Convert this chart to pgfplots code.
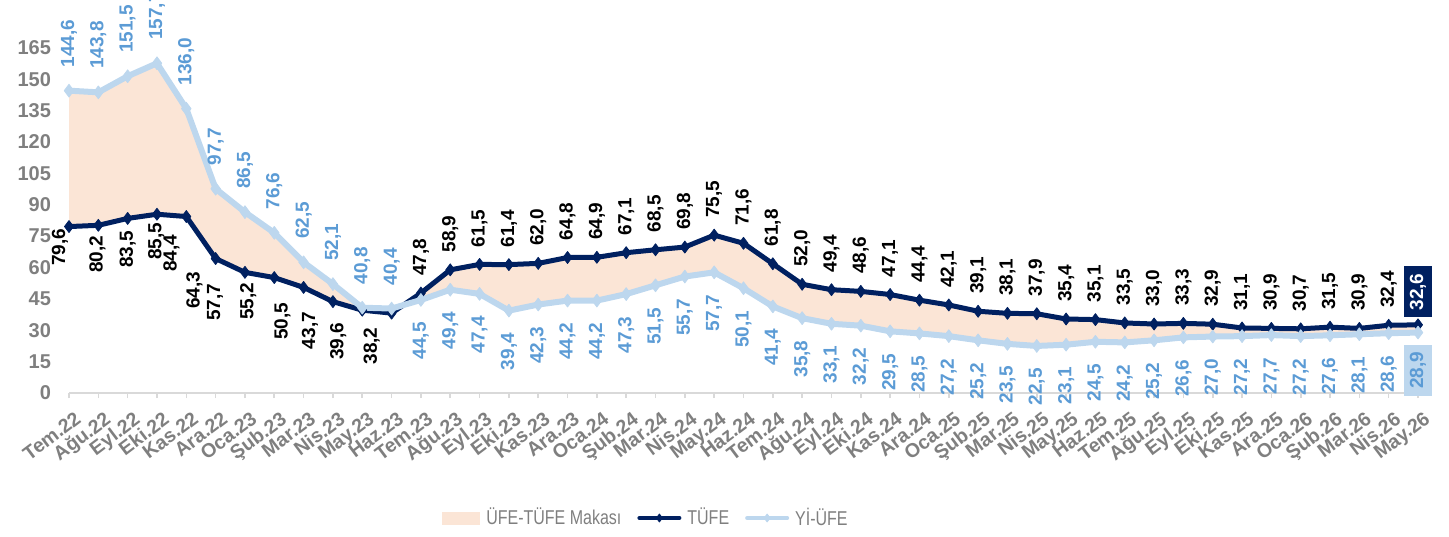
\documentclass[border=0pt]{standalone}
\usepackage{fontspec}
\setmainfont{Liberation Sans}
\newfontfamily\narrowfont{Liberation Sans}[FakeStretch=0.8]
\usepackage{pgfplots}
\usepackage{pgfplotstable}
\pgfplotsset{compat=1.18}
\usepgfplotslibrary{fillbetween}

\definecolor{tufe}{HTML}{002060}
\definecolor{ufeline}{HTML}{BDD7EE}
\definecolor{ufetext}{HTML}{5B9BD5}
\definecolor{peach}{HTML}{FBE5D6}
\definecolor{txtgray}{HTML}{7F7F7F}
\definecolor{axgray}{HTML}{D9D9D9}

\newcommand\lbl{\bfseries\fontsize{9.5}{11}\selectfont}

% i = month index (Tem.22 = 0)
\pgfplotstableread{
i tufe ufe
0 79.6 144.6
1 80.2 143.8
2 83.5 151.5
3 85.5 157.7
4 84.4 136.0
5 64.3 97.7
6 57.7 86.5
7 55.2 76.6
8 50.5 62.5
9 43.7 52.1
10 39.6 40.8
11 38.2 40.4
12 47.8 44.5
13 58.9 49.4
14 61.5 47.4
15 61.4 39.4
16 62.0 42.3
17 64.8 44.2
18 64.9 44.2
19 67.1 47.3
20 68.5 51.5
21 69.8 55.7
22 75.5 57.7
23 71.6 50.1
24 61.8 41.4
25 52.0 35.8
26 49.4 33.1
27 48.6 32.2
28 47.1 29.5
29 44.4 28.5
30 42.1 27.2
31 39.1 25.2
32 38.1 23.5
33 37.9 22.5
34 35.4 23.1
35 35.1 24.5
36 33.5 24.2
37 33.0 25.2
38 33.3 26.6
39 32.9 27.0
40 31.1 27.2
41 30.9 27.7
42 30.7 27.2
43 31.5 27.6
44 30.9 28.1
45 32.4 28.6
46 32.6 28.9
}\data

% where the early TUFE labels sit (they were moved below-left of the line)
\pgfplotstableread{
lx ly v
-0.31 78.64 79.6
0.97 75.42 80.2
2.00 77.76 83.5
2.97 81.67 85.5
3.49 75.79 84.4
4.28 58.08 64.3
4.98 52.44 57.7
6.11 52.81 55.2
7.28 43.33 50.5
8.22 38.92 43.7
9.18 33.86 39.6
10.32 31.50 38.2
}\early

\pgfplotsset{
  lab/.style={draw=none, mark=none, forget plot,
    nodes near coords={\pgfmathprintnumber[fixed,fixed zerofill,precision=1,use comma,assume math mode=true]{\pgfplotspointmeta}}},
  lineleg/.style={legend image code/.code={\draw[mark repeat=2, mark phase=2, ##1, line width=2pt, line cap=round, mark size=2pt]
    plot coordinates {(0pt,0pt) (10pt,0pt) (20pt,0pt)};}},
  arealeg/.style={legend image code/.code={\fill[peach] (0pt,-3pt) rectangle (18.5pt,3pt);}},
}

\begin{document}
\begin{tikzpicture}
\begin{axis}[
  scale only axis, width=674.5pt, height=182.95pt,
  xmin=0, xmax=46, ymin=0, ymax=175,
  clip=false,
  axis x line*=bottom, axis y line*=left,
  x axis line style={draw=axgray, line width=0.8pt, -},
  y axis line style={draw=none},
  ytick={0,15,...,165},
  ytick style={draw=none},
  xtick={0,...,46},
  x tick style={draw=axgray, line width=0.8pt},
  tick align=outside, major tick length=2.5pt,
  /pgf/number format/assume math mode=true,
  yticklabel style={font=\bfseries\fontsize{10}{12}\selectfont, text=txtgray, xshift=-3pt},
  xticklabel style={font=\bfseries\fontsize{9.8}{11}\selectfont, text=txtgray,
    xshift=2.5pt, yshift=-6pt, rotate=37, anchor=north east, inner sep=0pt},
  xticklabels={Tem.22,Ağu.22,Eyl.22,Eki.22,Kas.22,Ara.22,Oca.23,Şub.23,Mar.23,Nis.23,May.23,Haz.23,
    Tem.23,Ağu.23,Eyl.23,Eki.23,Kas.23,Ara.23,Oca.24,Şub.24,Mar.24,Nis.24,May.24,Haz.24,
    Tem.24,Ağu.24,Eyl.24,Eki.24,Kas.24,Ara.24,Oca.25,Şub.25,Mar.25,Nis.25,May.25,Haz.25,
    Tem.25,Ağu.25,Eyl.25,Eki.25,Kas.25,Ara.25,Oca.26,Şub.26,Mar.26,Nis.26,May.26},
  legend columns=3,
  legend style={draw=none, fill=none, at={(0.4285,-0.3416)}, anchor=center,
    font=\narrowfont\fontsize{10}{12}\selectfont, text=txtgray,
    /tikz/every even column/.append style={column sep=6pt},
    /tikz/every odd column/.append style={column sep=1pt}},
]
\addplot[name path=T, draw=none, forget plot] table[x=i, y=tufe] {\data};
\addplot[name path=U, draw=none, forget plot] table[x=i, y=ufe] {\data};
\addplot[peach, area legend, arealeg] fill between[of=T and U];
\addlegendentry{ÜFE-TÜFE Makası}

\addplot[tufe, line width=2.5pt, line join=round, mark=diamond*, mark size=3pt,
  mark options={solid, line width=0.4pt}, lineleg]
  table[x=i, y=tufe] {\data};
\addlegendentry{TÜFE}

\addplot[ufeline, line width=3pt, line join=round, mark=diamond*, mark size=3.2pt,
  mark options={solid, line width=0.4pt}, lineleg]
  table[x=i, y=ufe] {\data};
\addlegendentry{Yİ-ÜFE}

% TUFE labels: below for the first months, above afterwards
\addplot[lab, point meta=explicit,
  every node near coord/.append style={rotate=90, anchor=east,
    inner sep=0pt, font=\lbl, text=black}]
  table[x=lx, y=ly, meta=v] {\early};
\addplot[lab, restrict x to domain=12:45,
  every node near coord/.append style={yshift=8.5pt, rotate=90, anchor=west,
    inner sep=0pt, font=\lbl, text=black}]
  table[x=i, y=tufe] {\data};
% Yi-UFE labels: above for the first months, below afterwards
\addplot[lab, restrict x to domain=0:11,
  every node near coord/.append style={yshift=11.5pt, rotate=90, anchor=west,
    inner sep=0pt, font=\lbl, text=ufetext}]
  table[x=i, y=ufe] {\data};
\addplot[lab, restrict x to domain=12:45,
  every node near coord/.append style={yshift=-11pt, rotate=90, anchor=east,
    inner sep=0pt, font=\lbl, text=ufetext}]
  table[x=i, y=ufe] {\data};
% last month, boxed
\addplot[lab, restrict x to domain=46:46,
  every node near coord/.append style={yshift=3.5pt, rotate=90, anchor=west,
    inner xsep=3.5pt, inner ysep=3pt, fill=tufe, font=\lbl, text=white}]
  table[x=i, y=tufe] {\data};
\addplot[lab, restrict x to domain=46:46,
  every node near coord/.append style={yshift=-6pt, rotate=90, anchor=east,
    inner xsep=3.5pt, inner ysep=3pt, fill=ufeline, font=\lbl, text=ufetext}]
  table[x=i, y=ufe] {\data};
\end{axis}
\pgfresetboundingbox
\path[use as bounding box] ([shift={(-34.5pt,-71.5pt)}]current axis.south west)
  rectangle ([shift={(690pt,196.5pt)}]current axis.south west);
\end{tikzpicture}
\end{document}
